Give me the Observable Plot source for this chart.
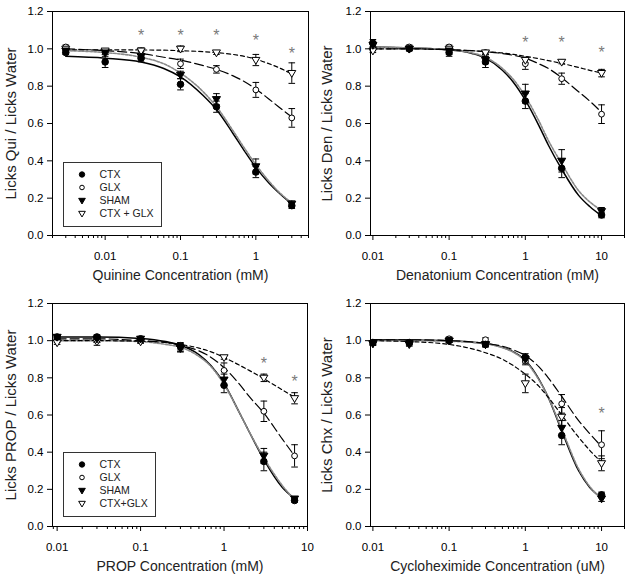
<!DOCTYPE html>
<html><head><meta charset="utf-8">
<script src="https://cdn.jsdelivr.net/npm/d3@7"></script>
<script src="https://cdn.jsdelivr.net/npm/@observablehq/plot@0.6"></script>
<style>
body{margin:0;background:#fff;}
#chart{position:relative;width:629px;height:579px;font-family:"Liberation Sans",Arial,sans-serif;color:#000;}
#chart svg{position:absolute;overflow:visible;background:transparent;}
</style></head><body><div id="chart"></div>
<script>
// ---------- shared ----------
const groups = ["CTX", "GLX", "SHAM", "CTX+GLX"];
const legendLabelsTop = ["CTX", "GLX", "SHAM", "CTX + GLX"];
const legendLabelsBottom = ["CTX", "GLX", "SHAM", "CTX+GLX"];
const yTicks = [0, 0.2, 0.4, 0.6, 0.8, 1.0, 1.2];

// ---------- Panel A: Quinine ----------
const quiConc = [0.003, 0.01, 0.03, 0.1, 0.3, 1, 3];
const quiCTX  = [0.98, 0.93, 0.95, 0.81, 0.69, 0.34, 0.16];
const quiGLX  = [1.01, 0.98, 0.97, 0.92, 0.89, 0.78, 0.63];
const quiSHAM = [0.99, 0.98, 0.96, 0.86, 0.73, 0.37, 0.17];
const quiCG   = [1.00, 0.99, 0.99, 1.00, 0.98, 0.94, 0.87];
const quiCTXse  = [0.01, 0.03, 0.02, 0.03, 0.03, 0.03, 0.015];
const quiGLXse  = [0.01, 0.01, 0.015, 0.025, 0.02, 0.04, 0.05];
const quiSHAMse = [0.01, 0.01, 0.015, 0.02, 0.03, 0.04, 0.015];
const quiCGse   = [0.01, 0.01, 0.015, 0.015, 0.01, 0.03, 0.055];
const quiFitConc = [0.003, 0.01, 0.03, 0.06, 0.1, 0.2, 0.3, 0.5, 0.7, 1, 1.5, 2, 3];
const quiFitCTX  = [0.96, 0.95, 0.93, 0.895, 0.85, 0.75, 0.675, 0.545, 0.455, 0.365, 0.28, 0.23, 0.168];
const quiFitGLX  = [1.0, 0.99, 0.975, 0.955, 0.94, 0.91, 0.89, 0.855, 0.825, 0.785, 0.73, 0.69, 0.635];
const quiFitSHAM = [0.99, 0.98, 0.955, 0.92, 0.87, 0.77, 0.69, 0.56, 0.47, 0.38, 0.29, 0.235, 0.175];
const quiFitCG   = [0.995, 0.995, 0.994, 0.993, 0.99, 0.985, 0.98, 0.97, 0.96, 0.945, 0.92, 0.90, 0.865];
const quiStarConc = [0.03, 0.1, 0.3, 1, 3];
const quiStarY    = [1.09, 1.09, 1.09, 1.063, 0.997];
const quiTicks = [0.01, 0.1, 1];

// ---------- Panel B: Denatonium ----------
const denConc = [0.01, 0.03, 0.1, 0.3, 1, 3, 10];
const denCTX  = [1.03, 1.00, 0.98, 0.93, 0.72, 0.36, 0.11];
const denGLX  = [1.00, 1.01, 1.01, 0.98, 0.92, 0.84, 0.65];
const denSHAM = [1.02, 1.00, 0.99, 0.94, 0.76, 0.40, 0.13];
const denCG   = [0.99, 1.00, 1.00, 0.98, 0.94, 0.93, 0.87];
const denCTXse  = [0.02, 0.01, 0.02, 0.03, 0.04, 0.05, 0.015];
const denGLXse  = [0.01, 0.01, 0.01, 0.01, 0.03, 0.03, 0.05];
const denSHAMse = [0.02, 0.01, 0.02, 0.02, 0.05, 0.06, 0.02];
const denCGse   = [0.01, 0.01, 0.01, 0.01, 0.015, 0.01, 0.02];
const denFitConc = [0.01, 0.03, 0.1, 0.2, 0.3, 0.5, 0.7, 1, 1.5, 2, 3, 5, 7, 10];
const denFitCTX  = [1.01, 1.005, 0.995, 0.975, 0.95, 0.885, 0.82, 0.725, 0.59, 0.485, 0.355, 0.215, 0.155, 0.105];
const denFitGLX  = [1.0, 1.0, 0.995, 0.99, 0.985, 0.975, 0.965, 0.95, 0.92, 0.895, 0.845, 0.77, 0.72, 0.66];
const denFitSHAM = [1.01, 1.005, 0.995, 0.978, 0.955, 0.895, 0.835, 0.745, 0.615, 0.51, 0.385, 0.24, 0.18, 0.135];
const denFitCG   = [1.0, 1.0, 0.995, 0.99, 0.985, 0.978, 0.97, 0.96, 0.947, 0.937, 0.922, 0.9, 0.885, 0.87];
const denStarConc = [1, 3, 10];
const denStarY    = [1.053, 1.053, 1.0];
const denTicks = [0.01, 0.1, 1, 10];

// ---------- Panel C: PROP ----------
const propConc = [0.01, 0.03, 0.1, 0.3, 1, 3, 7];
const propCTX  = [1.02, 1.02, 1.01, 0.97, 0.76, 0.35, 0.14];
const propGLX  = [1.00, 1.00, 1.00, 0.975, 0.84, 0.62, 0.38];
const propSHAM = [1.02, 1.01, 1.01, 0.96, 0.79, 0.38, 0.15];
const propCG   = [0.99, 0.995, 0.995, 0.96, 0.91, 0.80, 0.69];
const propCTXse  = [0.01, 0.01, 0.01, 0.02, 0.04, 0.05, 0.01];
const propGLXse  = [0.01, 0.01, 0.01, 0.01, 0.04, 0.055, 0.06];
const propSHAMse = [0.01, 0.02, 0.01, 0.02, 0.03, 0.04, 0.01];
const propCGse   = [0.01, 0.02, 0.01, 0.02, 0.01, 0.02, 0.03];
const propFitConc = [0.01, 0.03, 0.1, 0.2, 0.3, 0.5, 0.7, 1, 1.5, 2, 3, 5, 7];
const propFitCTX  = [1.02, 1.02, 1.012, 0.995, 0.975, 0.925, 0.865, 0.77, 0.62, 0.51, 0.36, 0.21, 0.15];
const propFitGLX  = [1.01, 1.01, 1.0, 0.99, 0.975, 0.945, 0.91, 0.855, 0.77, 0.70, 0.61, 0.47, 0.38];
const propFitSHAM = [1.0, 1.0, 0.995, 0.98, 0.965, 0.915, 0.86, 0.765, 0.62, 0.51, 0.37, 0.22, 0.145];
const propFitCG   = [1.0, 1.0, 0.997, 0.99, 0.98, 0.96, 0.94, 0.91, 0.87, 0.84, 0.795, 0.735, 0.695];
const propStarConc = [3, 7];
const propStarY    = [0.898, 0.80];
const propTicks = [0.01, 0.1, 1, 10];

// ---------- Panel D: Cycloheximide ----------
const chxConc = [0.01, 0.03, 0.1, 0.3, 1, 3, 10];
const chxCTX  = [0.99, 0.99, 1.00, 0.98, 0.91, 0.49, 0.17];
const chxGLX  = [0.99, 0.99, 1.01, 1.005, 0.89, 0.66, 0.44];
const chxSHAM = [0.985, 0.985, 1.00, 0.98, 0.90, 0.53, 0.15];
const chxCG   = [0.985, 0.98, 1.00, 0.98, 0.77, 0.59, 0.34];
const chxCTXse  = [0.01, 0.01, 0.01, 0.015, 0.02, 0.05, 0.015];
const chxGLXse  = [0.01, 0.01, 0.01, 0.01, 0.02, 0.05, 0.075];
const chxSHAMse = [0.01, 0.01, 0.01, 0.01, 0.02, 0.04, 0.015];
const chxCGse   = [0.01, 0.01, 0.01, 0.01, 0.05, 0.05, 0.04];
const chxFitConc = [0.01, 0.03, 0.1, 0.3, 0.5, 0.7, 1, 1.5, 2, 3, 5, 7, 10];
const chxFitCTX  = [1.005, 1.004, 1.0, 0.985, 0.965, 0.94, 0.895, 0.795, 0.695, 0.515, 0.3, 0.21, 0.155];
const chxFitGLX  = [1.005, 1.005, 1.0, 0.985, 0.97, 0.95, 0.92, 0.86, 0.80, 0.70, 0.57, 0.5, 0.43];
const chxFitSHAM = [1.0, 1.0, 0.997, 0.983, 0.962, 0.937, 0.89, 0.79, 0.695, 0.525, 0.31, 0.215, 0.15];
const chxFitCG   = [1.0, 0.995, 0.98, 0.935, 0.9, 0.865, 0.82, 0.755, 0.695, 0.6, 0.48, 0.41, 0.345];
const chxStarConc = [10];
const chxStarY    = [0.63];
const chxTicks = [0.01, 0.1, 1, 10];

// ---------- styles ----------
const triDown = {draw(ctx, size) {
  const r = Math.sqrt(size / Math.PI);
  ctx.moveTo(-1.15 * r, -0.75 * r); ctx.lineTo(1.15 * r, -0.75 * r); ctx.lineTo(0, 1.2 * r); ctx.closePath();
}};
const capSym = {draw(ctx, size) {
  const r = Math.sqrt(size / Math.PI);
  ctx.moveTo(-r, 0); ctx.lineTo(r, 0);
}};
const markStyle = {
  "CTX":     {symbol: "circle", r: 3.3, fill: "black", stroke: "black", strokeWidth: 1},
  "GLX":     {symbol: "circle", r: 2.9, fill: "white", stroke: "black", strokeWidth: 1},
  "SHAM":    {symbol: triDown, r: 3.5, fill: "black", stroke: "black", strokeWidth: 1},
  "CTX+GLX": {symbol: triDown, r: 3.5, fill: "white", stroke: "black", strokeWidth: 1}
};
const lineStyle = {
  "CTX":     {stroke: "black", strokeWidth: 1.5},
  "GLX":     {stroke: "black", strokeWidth: 1.2, strokeDasharray: "9,4"},
  "SHAM":    {stroke: "#8a8a8a", strokeWidth: 1.6, strokeDasharray: "2.5,1.5"},
  "CTX+GLX": {stroke: "black", strokeWidth: 1.2, strokeDasharray: "4,3"}
};

function rowsFor(conc, means, ses) {
  return groups.flatMap((g, i) => conc.map((c, j) => ({group: g, x: c, y: means[i][j], se: ses ? ses[i][j] : 0})));
}

function panel(cfg) {
  const pts = rowsFor(cfg.conc, cfg.means, cfg.ses);
  const fit = rowsFor(cfg.fitConc, cfg.fits, null);
  const stars = cfg.starConc.map((c, i) => ({x: c, y: cfg.starY[i]}));
  const minor = d3.scaleLog().domain(cfg.xDomain).ticks().filter(t => !cfg.xTicks.some(m => Math.abs(m - t) / m < 1e-6));
  const marks = [];
  for (const g of ["CTX", "SHAM", "GLX", "CTX+GLX"]) {
    marks.push(Plot.line(fit.filter(d => d.group === g), {x: "x", y: "y", curve: "monotone-x", ...lineStyle[g]}));
  }
  marks.push(Plot.ruleX(pts, {x: "x", y1: d => d.y - d.se, y2: d => d.y + d.se, stroke: "black", strokeWidth: 1}));
  marks.push(Plot.dot(pts, {x: "x", y: d => d.y + d.se, symbol: capSym, r: 3.3, stroke: "black", fill: "none", strokeWidth: 1}));
  marks.push(Plot.dot(pts, {x: "x", y: d => d.y - d.se, symbol: capSym, r: 3.3, stroke: "black", fill: "none", strokeWidth: 1}));
  for (const g of ["GLX", "CTX+GLX", "SHAM", "CTX"]) {
    marks.push(Plot.dot(pts.filter(d => d.group === g), {x: "x", y: "y", ...markStyle[g]}));
  }
  marks.push(Plot.text(stars, {x: "x", y: "y", text: () => "*", fill: "#7a7a7a", fontSize: 16, dy: 4}));
  marks.push(Plot.axisY({ticks: yTicks, tickFormat: d => d.toFixed(1), tickSize: 5, tickPadding: 4, fontSize: 11.5, label: null}));
  marks.push(Plot.axisX({ticks: cfg.xTicks, tickFormat: d => String(d), tickSize: 5, tickPadding: 11, fontSize: 11.5, label: null}));
  marks.push(Plot.axisX({ticks: minor, tickSize: 3, fill: "none", label: null}));
  marks.push(Plot.frame({stroke: "black"}));
  marks.push(Plot.text([cfg.xLabel], {text: d => d, frameAnchor: "bottom", dy: 40, lineAnchor: "middle", textAnchor: "middle", fontSize: 14, fill: "#222"}));
  marks.push(Plot.text([cfg.yLabel], {text: d => d, frameAnchor: "left", dx: cfg.yLabelDx, rotate: -90, textAnchor: "middle", lineAnchor: "middle", fontSize: 15, fill: "#222"}));
  const svg = Plot.plot({
    width: cfg.width, height: cfg.height,
    marginLeft: cfg.m[0], marginRight: cfg.m[1], marginTop: cfg.m[2], marginBottom: cfg.m[3],
    style: {fontFamily: '"Liberation Sans", Arial, sans-serif', background: "transparent", color: "black"},
    x: {type: "log", domain: cfg.xDomain},
    y: {domain: [0, 1.2]},
    marks
  });
  svg.style.left = cfg.left + "px";
  svg.style.top = cfg.top + "px";
  return svg;
}

function legend(labels, left, top, width) {
  const items = groups.map((g, i) => ({group: g, label: labels[i]}));
  const marks = [Plot.frame({stroke: "#333", fill: "white"})];
  for (const g of groups) {
    const s = markStyle[g];
    marks.push(Plot.dot(items.filter(d => d.group === g), {y: "group", frameAnchor: "left", dx: 18.5,
      symbol: s.symbol, r: s.r - 0.6, fill: s.fill, stroke: s.stroke, strokeWidth: 1}));
  }
  marks.push(Plot.text(items, {y: "group", text: "label", frameAnchor: "left", dx: 36, textAnchor: "start", lineAnchor: "middle", fontSize: 10.5, fill: "#222"}));
  const svg = Plot.plot({
    width, height: 64, margin: 0,
    style: {fontFamily: '"Liberation Sans", Arial, sans-serif', background: "transparent"},
    y: {type: "point", domain: groups, range: [11.5, 50.5], padding: 0, axis: null},
    marks
  });
  svg.style.left = left + "px";
  svg.style.top = top + "px";
  return svg;
}

const chart = document.getElementById("chart");
chart.appendChild(panel({
  conc: quiConc, means: [quiCTX, quiGLX, quiSHAM, quiCG], ses: [quiCTXse, quiGLXse, quiSHAMse, quiCGse],
  fitConc: quiFitConc, fits: [quiFitCTX, quiFitGLX, quiFitSHAM, quiFitCG],
  starConc: quiStarConc, starY: quiStarY, xTicks: quiTicks, xDomain: [0.002, 5],
  xLabel: "Quinine Concentration (mM)", yLabel: "Licks Qui / Licks Water", yLabelDx: -41,
  width: 314, height: 290, m: [52, 6, 11, 55], left: 0, top: 0
}));
chart.appendChild(panel({
  conc: denConc, means: [denCTX, denGLX, denSHAM, denCG], ses: [denCTXse, denGLXse, denSHAMse, denCGse],
  fitConc: denFitConc, fits: [denFitCTX, denFitGLX, denFitSHAM, denFitCG],
  starConc: denStarConc, starY: denStarY, xTicks: denTicks, xDomain: [0.0093, 20],
  xLabel: "Denatonium Concentration (mM)", yLabel: "Licks Den / Licks Water", yLabelDx: -43,
  width: 315, height: 290, m: [56, 5, 11, 55], left: 314, top: 0
}));
chart.appendChild(panel({
  conc: propConc, means: [propCTX, propGLX, propSHAM, propCG], ses: [propCTXse, propGLXse, propSHAMse, propCGse],
  fitConc: propFitConc, fits: [propFitCTX, propFitGLX, propFitSHAM, propFitCG],
  starConc: propStarConc, starY: propStarY, xTicks: propTicks, xDomain: [0.0088, 10],
  xLabel: "PROP Concentration (mM)", yLabel: "Licks PROP / Licks Water", yLabelDx: -41,
  width: 314, height: 289, m: [52, 7, 13, 53], left: 0, top: 290
}));
chart.appendChild(panel({
  conc: chxConc, means: [chxCTX, chxGLX, chxSHAM, chxCG], ses: [chxCTXse, chxGLXse, chxSHAMse, chxCGse],
  fitConc: chxFitConc, fits: [chxFitCTX, chxFitGLX, chxFitSHAM, chxFitCG],
  starConc: chxStarConc, starY: chxStarY, xTicks: chxTicks, xDomain: [0.0093, 20],
  xLabel: "Cycloheximide Concentration (uM)", yLabel: "Licks Chx / Licks Water", yLabelDx: -43,
  width: 315, height: 289, m: [56, 5, 13, 53], left: 314, top: 290
}));
chart.appendChild(legend(legendLabelsTop, 63, 162, 98));
chart.appendChild(legend(legendLabelsBottom, 63, 452, 92));
</script></body></html>
